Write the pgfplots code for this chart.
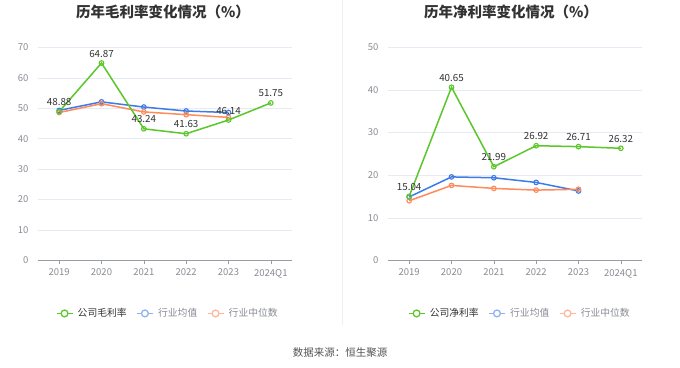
\documentclass[border=0pt]{standalone}
\usepackage{fontspec}
\setmainfont{Noto Sans CJK SC}
\usepackage{pgfplots}
\pgfplotsset{compat=1.18}
\definecolor{cgreen}{HTML}{5BC72B}
\definecolor{cblue}{HTML}{3D7BE6}
\definecolor{corange}{HTML}{FF8A5C}
\definecolor{lblue}{HTML}{8FB3F2}
\definecolor{lorange}{HTML}{FFB89E}
\definecolor{gridc}{HTML}{E6EAF2}
\definecolor{tickc}{HTML}{8A8C94}
\definecolor{axc}{HTML}{9A9CA3}
\definecolor{txt}{HTML}{333333}
\pgfplotsset{
  mystyle/.style={
    scale only axis, width=254pt, height=213pt,
    anchor=south west,
    xmin=-0.5, xmax=5.5, ymin=0,
    xtick={0,1,2,3,4,5},
    xticklabels={2019,2020,2021,2022,2023,2024Q1},
    axis x line*=bottom, axis y line*=left,
    y axis line style={draw=none},
    x axis line style={axc, line width=0.8pt},
    ytick style={draw=none},
    xtick style={axc, line width=0.6pt},
    tick align=outside, major tick length=4pt,
    ymajorgrids, grid style={gridc, line width=0.6pt},
    tick label style={font=\fontsize{9.5}{11}\selectfont, text=tickc},
    /pgf/number format/assume math mode=true,
    yticklabel style={xshift=-2pt},
    xticklabel style={yshift=-1pt},
    legend columns=3,
    legend style={draw=none, fill=none, font=\fontsize{9.8}{11}\selectfont,
      anchor=center, /tikz/every even column/.append style={column sep=7pt},
      /tikz/every odd column/.append style={column sep=2pt}},
    legend cell align=left,
    legend image code/.code={
      \draw[##1, line width=1.3pt] (0pt,0pt) -- (16pt,0pt);
      \draw[##1, line width=1.3pt, fill=white] (8pt,0pt) circle (3.4pt);
      \path (-1pt,0pt) (17pt,0pt);
    },
  },
  comp/.style={cgreen, line width=1.5pt, mark=o, mark size=2.3pt, mark options={fill=white, line width=1.1pt},
    nodes near coords, point meta=explicit symbolic,
    every node near coord/.append style={font=\fontsize{9.8}{11}\selectfont, text=txt, yshift=2pt}},
  avg/.style={cblue, line width=1.5pt, mark=o, mark size=2.3pt, mark options={fill=white, line width=1.1pt}},
  med/.style={corange, line width=1.5pt, mark=o, mark size=2.3pt, mark options={fill=white, line width=1.1pt}},
}
\begin{document}
\begin{tikzpicture}[x=1pt,y=1pt]
\path[fill=white] (0,0) rectangle (680,-367);
\draw[color={rgb,255:red,240;green,240;blue,240}, line width=0.8pt] (342,0) -- (342,-325);
\node[font=\fontsize{14.5}{17}\bfseries\selectfont, text=txt] at (163,-12) {历年毛利率变化情况（\%）};
\node[font=\fontsize{14.5}{17}\bfseries\selectfont, text=txt] at (511,-12) {历年净利率变化情况（\%）};
\node[font=\fontsize{10.5}{12}\selectfont, text={rgb,255:red,85;green,85;blue,85}] at (340,-352) {数据来源：恒生聚源};

\begin{axis}[mystyle, at={(38pt,-260pt)}, ymax=70, ytick={0,10,...,70},
  legend style={at={(0.51,-0.249)}}]
\addplot[avg, forget plot] coordinates {(0,49.3) (1,52.1) (2,50.4) (3,49.1) (4,48.6)};
\addplot[med, forget plot] coordinates {(0,48.6) (1,51.5) (2,48.8) (3,47.9) (4,47.0)};
\addplot[comp, forget plot] coordinates {(0,48.88)[48.88] (1,64.87)[64.87] (2,43.24)[43.24] (3,41.63)[41.63] (4,46.14)[46.14] (5,51.75)[51.75]};
\addlegendimage{cgreen}
\addlegendentry{\textcolor{txt}{公司毛利率}}
\addlegendimage{lblue}
\addlegendentry{\textcolor{tickc}{行业均值}}
\addlegendimage{lorange}
\addlegendentry{\textcolor{tickc}{行业中位数}}
\end{axis}

\begin{axis}[mystyle, at={(388pt,-260pt)}, ymax=50, ytick={0,10,...,50},
  legend style={at={(0.518,-0.249)}}]
\addplot[avg, forget plot] coordinates {(0,14.9) (1,19.6) (2,19.4) (3,18.3) (4,16.3)};
\addplot[med, forget plot] coordinates {(0,14.0) (1,17.6) (2,16.9) (3,16.5) (4,16.7)};
\addplot[comp, forget plot] coordinates {(0,15.04)[15.04] (1,40.65)[40.65] (2,21.99)[21.99] (3,26.92)[26.92] (4,26.71)[26.71] (5,26.32)[26.32]};
\addlegendimage{cgreen}
\addlegendentry{\textcolor{txt}{公司净利率}}
\addlegendimage{lblue}
\addlegendentry{\textcolor{tickc}{行业均值}}
\addlegendimage{lorange}
\addlegendentry{\textcolor{tickc}{行业中位数}}
\end{axis}
\end{tikzpicture}
\end{document}
